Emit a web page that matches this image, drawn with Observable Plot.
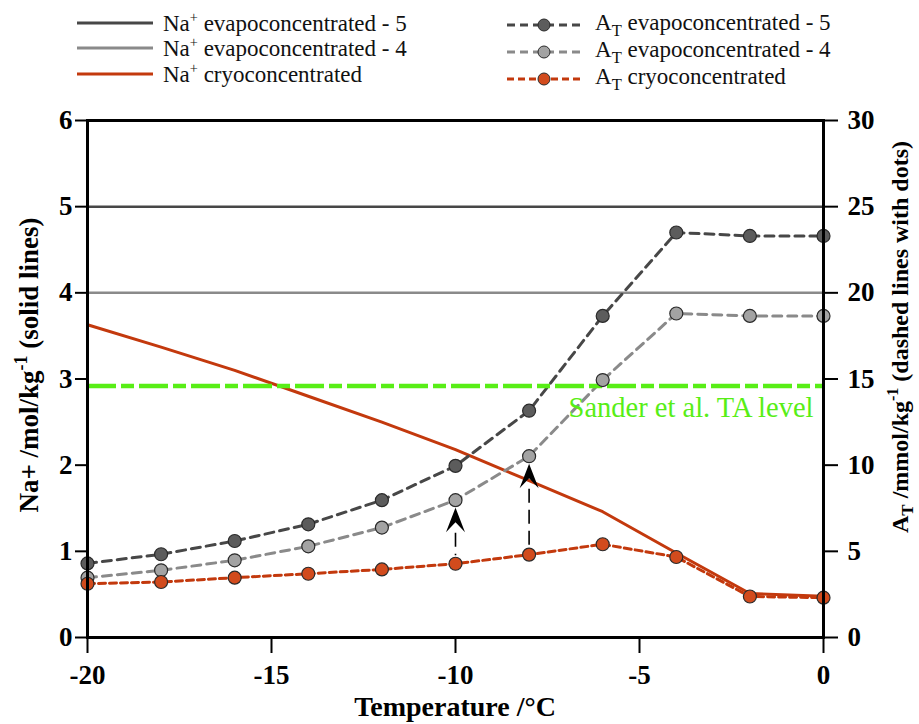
<!DOCTYPE html>
<html>
<head>
<meta charset="utf-8">
<script src="https://cdn.jsdelivr.net/npm/d3@7"></script>
<script src="https://cdn.jsdelivr.net/npm/@observablehq/plot@0.6"></script>
<style>
  body { margin: 0; background: #fff; font-family: "Liberation Serif", "Times New Roman", serif; }
  #wrap { position: relative; width: 919px; height: 724px; }
  #legend { position: relative; width: 919px; height: 110px; }
  .item { position: absolute; display: flex; align-items: center; height: 26px; white-space: nowrap; font-size: 23px; color: #111; }
  .item svg { flex: none; }
  .item span.t { margin-left: 10px; line-height: 1; }
  sup { font-size: 0.62em; vertical-align: 0.6em; line-height: 0; }
  sub { font-size: 0.72em; vertical-align: -0.35em; line-height: 0; }
</style>
</head>
<body>
<div id="wrap">
  <div id="legend"></div>
  <div id="chart"></div>
</div>
<script>
// ---------------- data ----------------
const temps   = [-20, -18, -16, -14, -12, -10, -8, -6, -4, -2, 0];
const naCryo  = [3.63, 3.37, 3.10, 2.80, 2.50, 2.18, 1.82, 1.46, 0.98, 0.51, 0.48]; // mol/kg
const naEvap5 = 5;   // mol/kg
const naEvap4 = 4;   // mol/kg
const atEvap5 = [4.30, 4.83, 5.60, 6.57, 7.97, 9.96, 13.16, 18.66, 23.50, 23.30, 23.30]; // mmol/kg
const atEvap4 = [3.47, 3.90, 4.48, 5.29, 6.38, 7.97, 10.52, 14.94, 18.80, 18.66, 18.66]; // mmol/kg
const atCryo  = [3.12, 3.22, 3.47, 3.70, 3.95, 4.28, 4.81, 5.41, 4.67, 2.38, 2.31];      // mmol/kg
const sanderTA = 14.6; // mmol/kg
const arrowTemps = [-10, -8];
const xTicks  = [-20, -15, -10, -5, 0];
const naTicks = [0, 1, 2, 3, 4, 5, 6];
const atTicks = [0, 5, 10, 15, 20, 25, 30];

const colEvap5 = "#474747", colEvap4 = "#8a8a8a", colCryo = "#c3390d";
const dotEvap5 = "#5c5c5c", dotEvap4 = "#a3a3a3", dotCryo = "#d24b1d";
const green = "#58ee16";

// conversion of right-axis (mmol/kg) values into left-axis (mol/kg) units
const k = naTicks[naTicks.length - 1] / atTicks[atTicks.length - 1];

// ---------------- legend ----------------
const legend = document.getElementById("legend");
const leftItems = [
  {c: colEvap5, html: "Na<sup>+</sup> evapoconcentrated - 5", y: 23},
  {c: colEvap4, html: "Na<sup>+</sup> evapoconcentrated - 4", y: 48},
  {c: colCryo,  html: "Na<sup>+</sup> cryoconcentrated", y: 74}
];
leftItems.forEach(d => {
  const el = document.createElement("div");
  el.className = "item";
  el.style.left = "77px"; el.style.top = (d.y - 13) + "px";
  el.innerHTML = `<svg width="76" height="26"><line x1="0" x2="76" y1="13" y2="13" stroke="${d.c}" stroke-width="3"/></svg><span class="t">${d.html}</span>`;
  legend.appendChild(el);
});
const rightItems = [
  {c: colEvap5, f: dotEvap5, dash: "8,5", html: "A<sub>T</sub> evapoconcentrated - 5", y: 25},
  {c: colEvap4, f: dotEvap4, dash: "8,5", html: "A<sub>T</sub> evapoconcentrated - 4", y: 52},
  {c: colCryo,  f: dotCryo,  dash: "7,4", html: "A<sub>T</sub> cryoconcentrated", y: 79}
];
rightItems.forEach(d => {
  const el = document.createElement("div");
  el.className = "item";
  el.style.left = "507px"; el.style.top = (d.y - 13) + "px";
  el.innerHTML = `<svg width="74" height="26"><line x1="0" x2="74" y1="13" y2="13" stroke="${d.c}" stroke-width="3" stroke-dasharray="${d.dash}"/><circle cx="37" cy="13" r="6" fill="${d.f}" stroke="#2a2a2a" stroke-width="1"/></svg><span class="t" style="margin-left:14px;position:relative;top:-3px">${d.html}</span>`;
  legend.appendChild(el);
});

// ---------------- tables ----------------
const naTable = temps.map((t, i) => ({t, na: naCryo[i]}));
const series = [
  {key: "e5", values: atEvap5, stroke: colEvap5, fill: dotEvap5, dash: "9,6"},
  {key: "e4", values: atEvap4, stroke: colEvap4, fill: dotEvap4, dash: "9,6"},
  {key: "cr", values: atCryo,  stroke: colCryo,  fill: dotCryo,  dash: "7,4"}
];
const arrowData = arrowTemps.map(t => {
  const i = temps.indexOf(t);
  return {t, top: atEvap4[i] * k, bottom: atCryo[i] * k};
});

const arrowHead = {
  draw(ctx) {
    ctx.moveTo(0, 7.5);
    ctx.lineTo(-9.5, 32);
    ctx.lineTo(0, 22);
    ctx.lineTo(9.5, 32);
    ctx.closePath();
  }
};

const marks = [
  Plot.ruleY([naEvap5], {stroke: colEvap5, strokeWidth: 2.5}),
  Plot.ruleY([naEvap4], {stroke: colEvap4, strokeWidth: 2.5}),
  Plot.line(naTable, {x: "t", y: "na", stroke: colCryo, strokeWidth: 3})
];
series.forEach(s => {
  const data = temps.map((t, i) => ({t, v: s.values[i] * k}));
  marks.push(Plot.line(data, {x: "t", y: "v", stroke: s.stroke, strokeWidth: 3, strokeDasharray: s.dash}));
});
marks.push(Plot.ruleY([sanderTA * k], {stroke: green, strokeWidth: 4.5, strokeDasharray: "29,5,13,5"}));
series.forEach(s => {
  const data = temps.map((t, i) => ({t, v: s.values[i] * k}));
  marks.push(Plot.dot(data, {x: "t", y: "v", r: 6.5, fill: s.fill, stroke: "#2a2a2a", strokeWidth: 1.2}));
});
marks.push(
  Plot.ruleX(arrowData, {x: "t", y1: "top", y2: "bottom", insetTop: 33, insetBottom: 8, stroke: "black", strokeWidth: 1.6, strokeDasharray: "14,7"}),
  Plot.dot(arrowData, {x: "t", y: "top", symbol: arrowHead, fill: "black", stroke: "none"}),
  Plot.text(["Sander et al. TA level"], {frameAnchor: "right", y: sanderTA * k, dx: -10, dy: 31, lineAnchor: "bottom", textAnchor: "end", fill: green, fontSize: 28.5, fontFamily: "Liberation Serif"}),
  Plot.axisX({ticks: xTicks, tickFormat: d => String(d), tickSize: 16, tickPadding: 11, fontSize: 27, fontWeight: "bold", strokeWidth: 2, label: null}),
  Plot.axisY({anchor: "left", ticks: naTicks, tickFormat: d => String(d), tickSize: 12, tickPadding: 3, fontSize: 27, fontWeight: "bold", strokeWidth: 2, label: null}),
  Plot.axisY({anchor: "right", ticks: atTicks.map(v => v * k), tickFormat: (d, i) => String(atTicks[i]), tickSize: 14, tickPadding: 10, fontSize: 27, fontWeight: "bold", strokeWidth: 2, label: null}),
  Plot.frame({stroke: "black", strokeWidth: 3})
);

const chart = Plot.plot({
  width: 919,
  height: 614,
  marginTop: 10,
  marginBottom: 87,
  marginLeft: 87,
  marginRight: 96,
  style: {fontFamily: "Liberation Serif", background: "white", color: "black", overflow: "visible"},
  x: {domain: [xTicks[0], xTicks[xTicks.length - 1]]},
  y: {domain: [naTicks[0], naTicks[naTicks.length - 1]]},
  marks
});
document.getElementById("chart").appendChild(chart);

// ---------------- axis titles (with super/subscripts) ----------------
const svg = d3.select(chart);
const yl = svg.append("text")
  .attr("transform", "translate(38,255) rotate(-90)")
  .attr("text-anchor", "middle")
  .attr("font-family", "Liberation Serif")
  .attr("font-weight", "bold")
  .attr("font-size", 27)
  .attr("fill", "black");
yl.append("tspan").text("Na+ /mol/kg");
yl.append("tspan").attr("dy", -11).attr("font-size", 18).text("-1");
yl.append("tspan").attr("dy", 11).text(" (solid lines)");

const yr = svg.append("text")
  .attr("transform", "translate(908,227) rotate(-90)")
  .attr("text-anchor", "middle")
  .attr("font-family", "Liberation Serif")
  .attr("font-weight", "bold")
  .attr("font-size", 24)
  .attr("fill", "black");
yr.append("tspan").text("A");
yr.append("tspan").attr("dy", 5).attr("font-size", 17).text("T");
yr.append("tspan").attr("dy", -5).text(" /mmol/kg");
yr.append("tspan").attr("dy", -10).attr("font-size", 16).text("-1");
yr.append("tspan").attr("dy", 10).text(" (dashed lines with dots)");

svg.append("text")
  .attr("x", 455).attr("y", 606)
  .attr("text-anchor", "middle")
  .attr("font-family", "Liberation Serif")
  .attr("font-weight", "bold")
  .attr("font-size", 28)
  .attr("fill", "black")
  .text("Temperature /°C");
</script>
</body>
</html>
